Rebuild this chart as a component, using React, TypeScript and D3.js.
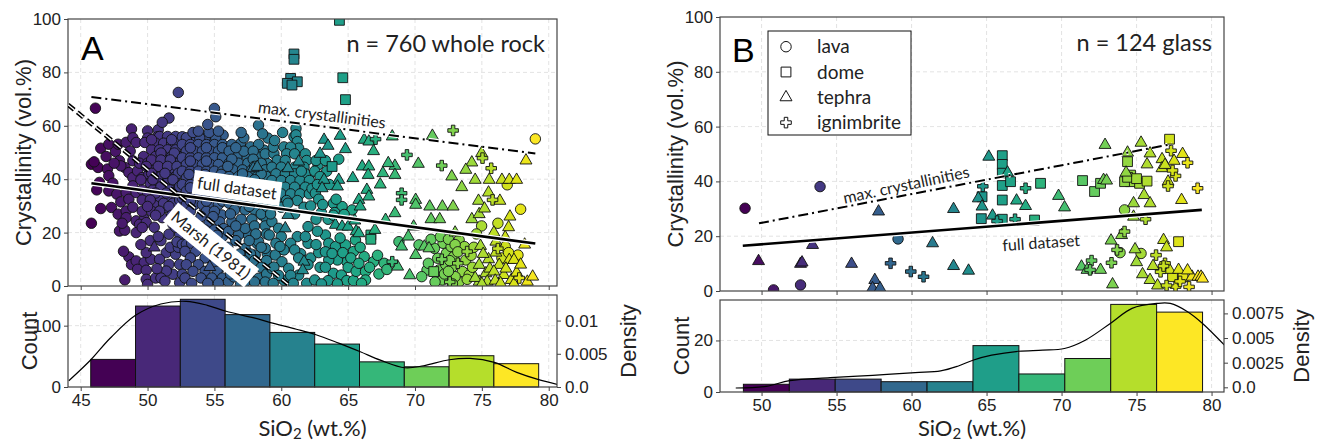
import React, { useRef, useEffect } from 'react'
import * as d3 from 'd3'

type Pt = [number, number]

// ---------- panel A : whole rock (SiO2 wt.%, crystallinity vol.%) ----------
const lavaA: Pt[] = [
  // 45.8 - 49.1
  [46.1,66.6],[48.8,58.8],[46.5,51.6],[47.1,53.1],[47.6,50.4],[47.8,53.1],[48.4,53.8],[45.8,45.6],[46.3,44.4],[47.0,43.8],
  [47.1,41.3],[47.9,46.9],[48.3,44.4],[48.9,46.9],[48.6,42.5],[48.9,40.6],[46.4,38.8],[47.1,35.6],[47.7,34.4],[48.4,35.0],
  [46.5,29.0],[47.3,29.4],[47.8,26.9],[48.4,28.1],[48.4,25.6],[45.8,23.5],[47.9,20.6],[48.3,20.9],[48.6,10.9],[48.3,2.3],
  [48.9,55.5],[48.7,50.5],[46.0,46.5],[47.4,38.5],[48.0,31.5],[48.9,37.5],[46.9,48.5],[48.1,23.5],[48.8,8.0],[48.0,45.0],
  [47.5,46.0],[46.2,36.0],[48.6,32.5],[48.9,29.5],[48.2,13.0],
  // 49.1 - 52.4
  [49.25,43.1],[49.6,40.6],[50.1,41.9],[50.6,40.0],[50.0,58.1],[50.0,55.4],[50.8,58.5],[50.75,55.9],[49.15,53.75],[49.8,53.75],
  [51.6,62.9],[51.1,61.3],[52.3,72.5],[49.9,32.5],[50.5,31.25],[49.15,24.4],[49.75,25.0],[49.4,23.1],[49.9,23.75],[49.15,20.0],
  [49.6,21.9],[49.15,9.4],[49.75,8.75],[49.25,6.25],[49.9,5.9],[50.25,10.0],[49.9,12.5],[49.9,2.5],[50.0,0.6],[51.4,12.5],
  [52.1,11.9],[51.6,8.1],[52.4,8.1],[51.9,4.4],[51.4,5.6],[52.4,1.25],[51.6,19.4],[52.4,19.4],[51.9,23.1],[51.1,25.6],
  [51.4,29.4],[49.15,35.0],
  [50.9,56],[51.5,56],[52.1,56],[50.6,53.5],[51.2,53.5],[51.8,53.5],[52.3,53.5],[50.3,51],[50.9,51],[51.5,51],[52.1,51],
  [49.7,48.5],[50.6,48.5],[51.2,48.5],[51.8,48.5],[52.35,48.5],[49.4,46],[50.0,46],[50.9,46],[51.5,46],[52.1,46],
  [50.5,43.5],[51.2,43.5],[51.8,43.5],[52.4,43.5],[51.0,41],[51.5,41],[52.1,41],[50.2,38.5],[50.8,38.5],[51.4,38.5],[52.0,38.5],
  [49.6,36],[50.4,36],[51.1,36],[51.7,36],[52.3,36],[50.9,33.5],[51.6,33.5],[52.2,33.5],[51.2,31],[51.9,31],
  [49.6,28],[50.3,28],[50.9,28],[52.2,28],[50.2,17],[51.0,17],[51.7,14.5],[52.3,14.5],[50.6,3],[51.0,3],
  [50.3,54.8],[51.8,54.8],[51.0,49.8],[52.0,49.8],[50.3,47.2],[51.0,47.2],[51.7,47.2],[49.9,44.8],[50.8,44.8],[51.5,44.8],[52.2,44.8],
  [50.3,42.2],[51.3,42.2],[52.3,42.2],[49.5,39.8],[50.4,39.8],[51.9,39.8],[51.0,37.2],[52.4,37.2],[50.0,34.8],[50.6,34.8],[51.4,34.8],
  [49.6,32.2],[50.2,32.2],[52.4,32.2],[50.0,29.8],[51.6,29.8],[50.6,26.5],[51.8,26.5],[50.5,22],[52.1,22],[50.9,10],[50.7,6.5],
  [50.8,18.5],[49.5,15.5],[52.2,16.5],[51.3,1.8],
  // 52.4 - 55.8
  [55.0,66.5],[55.1,63.4],[52.6,55.9],[53.45,54.6],[54.45,54.6],[55.65,56.5],[53.55,54.1],[54.3,55.4],[53.8,51.6],[54.55,49.1],
  [54.05,46.6],[54.8,45.4],[53.3,44.1],[55.3,44.1],[53.95,22.1],[52.95,17.1],[54.2,14.6],[55.0,10.9],[55.45,7.1],[55.55,26.6],
  [55.3,16.6],[55.55,7.9],[52.6,15.6],[52.6,4.4],[52.9,15.6],
  [52.9,55.5],[53.9,55.5],[55.1,55.5],[52.6,53],[53.2,53],[53.8,53],[54.4,53],[55.0,53],[55.6,53],
  [52.9,50.5],[53.5,50.5],[54.1,50.5],[54.7,50.5],[55.3,50.5],[52.6,48],[53.2,48],[53.8,48],[54.4,48],[55.0,48],[55.6,48],
  [52.9,45.5],[53.5,45.5],[54.1,45.5],[54.7,45.5],[55.3,45.5],[52.6,43],[53.2,43],[53.8,43],[54.4,43],[55.0,43],[55.6,43],
  [52.9,40.5],[53.5,40.5],[54.1,40.5],[54.7,40.5],[55.3,40.5],[52.6,38],[53.2,38],[53.8,38],[54.4,38],[55.0,38],[55.6,38],
  [52.9,35.5],[53.5,35.5],[54.1,35.5],[54.7,35.5],[55.3,35.5],[52.6,33],[53.2,33],[53.8,33],[54.4,33],[55.0,33],[55.6,33],
  [52.9,30.5],[53.5,30.5],[54.1,30.5],[54.7,30.5],[55.3,30.5],[53.2,28],[54.4,28],[55.0,28],
  [52.7,24],[53.5,24],[54.6,24],[55.4,24],[53.1,21],[54.3,21],[55.0,21],[53.8,18.5],[54.8,18.5],[55.6,18.5],[53.3,16],[54.0,16],
  [52.8,13],[53.6,13],[54.7,13],[55.5,13],[53.2,10.5],[54.3,10.5],[52.9,8],[53.8,8],[54.9,8],[53.4,5.5],[54.3,5.5],[55.2,5.5],
  [52.8,3],[54.0,3],[54.8,3],[55.6,3],[53.3,1],[54.5,1],[55.3,1],
  [53.2,51.8],[54.4,51.8],[55.6,51.8],[53.2,46.8],[54.4,46.8],[53.1,41.8],[54.3,41.8],[55.5,41.8],[53.2,36.8],[54.4,36.8],[55.5,36.8],
  [53.2,31.8],[54.4,31.8],[55.6,31.8],[52.9,26],[54.0,26],[54.9,26],[53.4,57.5],[54.6,57.5],[53.8,58],[55.3,58],[54.5,60.5],
  [52.7,27],[55.7,21.5],[53.9,19.5],[55.2,19.0],
  // 55.8 - 59.1
  [58.3,60.25],[56.95,53.4],[57.7,52.1],[58.7,50.9],[56.7,48.4],[57.45,48.4],[58.2,48.4],[58.95,45.9],[59.0,55.4],[56.95,0.5],
  [57.45,19.6],[58.2,15.9],[58.95,12.1],[58.55,26.6],[58.3,16.6],[58.8,14.1],[58.05,11.6],[57.3,14.1],[56.8,19.1],[57.3,21.6],
  [56.3,24.1],[56.05,20.4],[56.3,11.6],[56.8,6.6],[57.55,4.1],[56.05,1.6],[58.3,2.9],[56.45,3.4],
  [56.3,53],[58.3,53],[56.1,50.5],[57.2,50.5],[57.9,50.5],[56.1,46],[56.8,46],[57.5,46],[58.5,46],
  [56.4,43.5],[57.1,43.5],[57.8,43.5],[58.8,43.5],[56.1,41],[56.8,41],[57.5,41],[58.2,41],[58.9,41],
  [56.4,38.5],[57.1,38.5],[57.8,38.5],[58.5,38.5],[56.1,36],[56.8,36],[57.5,36],[58.2,36],[58.9,36],
  [56.4,33.5],[57.1,33.5],[57.8,33.5],[58.5,33.5],[56.1,31],[56.8,31],[57.5,31],[58.2,31],[58.9,31],[56.5,28.5],[57.3,28.5],[58.0,28.5],
  [57.0,25],[57.8,25],[58.9,25],[56.6,22.5],[58.0,22.5],[58.8,22.5],[58.1,19.5],[58.9,19.5],[56.6,17],[57.6,17],[56.0,14.5],[58.5,14.5],
  [56.9,12],[57.7,12],[56.4,9.5],[57.2,9.5],[58.0,9.5],[58.9,9.5],[57.6,7],[58.5,7],[56.2,4.5],[58.9,4.5],[57.3,1.5],[58.0,1.5],[58.8,1.5],
  [56.3,47.5],[57.9,47.5],[57.1,42],[58.5,42],[56.6,37],[57.8,37],[57.0,32],[58.6,32],[56.2,27],[58.5,27],[57.2,55.5],
  [56.0,39.8],[58.0,39.8],[56.3,34.8],[57.4,34.8],[57.6,29.8],[58.9,29.8],[56.0,44.8],[58.0,44.8],[58.8,49.5],[56.6,51.8],[57.0,57.5],[58.6,57.0],
  // 59.1 - 62.4
  [59.45,49.6],[59.7,47.1],[60.2,52.1],[60.95,55.9],[61.1,59.0],[61.1,56.6],[61.2,54.1],[61.3,51.6],[59.3,24.1],[59.8,21.6],
  [59.1,19.1],[59.55,11.6],[60.05,9.1],[60.55,6.6],[59.3,6.6],[61.3,4.1],[59.45,7.1],[60.2,2.1],[61.45,12.1],[62.05,41.0],[62.0,22.25],
  [59.4,52],[60.7,52],[60.4,49.5],[61.0,49.5],[61.8,49.5],[60.3,47],[61.9,47],[59.3,44.5],[60.0,44.5],[61.0,44.5],[61.7,44.5],
  [59.6,42],[60.3,42],[61.0,42],[61.8,42],[59.3,39.5],[60.0,39.5],[60.7,39.5],[61.4,39.5],[62.1,39.5],
  [59.6,37],[60.3,37],[61.0,37],[61.8,37],[59.3,34.5],[60.0,34.5],[60.7,34.5],[61.4,34.5],[62.1,34.5],
  [59.6,32],[60.4,32],[61.2,32],[59.3,29.5],[60.0,29.5],[61.7,29.5],
  [59.2,27],[61.0,27],[60.0,18.5],[61.2,18.5],[59.6,16],[60.7,16],[62.0,16],[60.2,13.5],[61.0,13.5],[61.3,10.5],[62.2,10.5],
  [59.8,4],[60.7,4],[59.4,1],[60.9,1],[61.9,1],[62.0,8],
  [59.5,54.5],[60.1,57.5],[61.5,43],[60.5,31],[62.2,30],[59.9,14.8],[61.8,18.5],[62.3,36.5],
  // 62.4 - 65.7
  [62.75,45.4],[62.55,34.75],[63.9,31.0],[64.55,29.75],[65.3,28.5],[63.3,19.1],[63.55,16.0],[64.05,14.75],[64.8,15.4],[65.55,17.25],
  [65.4,12.9],[64.9,9.1],[64.2,9.75],[63.55,9.75],[63.9,4.75],[64.5,4.1],[62.5,2.25],
  [62.6,47],[63.3,47],[62.5,43],[63.4,43],[62.9,41],[62.7,38],[63.6,38],[62.8,32.5],[64.1,32.5],[63.0,27.5],[64.0,27.5],
  [62.6,25],[63.5,25],[62.7,20.5],[64.4,18],[62.8,12.5],[63.3,12.8],[64.6,12.5],[62.9,7],[63.3,7],[65.0,7],[63.5,2],[64.9,2],[65.4,2],
  [63.0,0.8],[64.2,0.8],[65.6,5.5],[65.2,10.5],[63.8,12.2],[62.6,15.5],[63.9,26.5],[64.7,26.8],[63.1,30.5],[64.3,47.5],
  // 65.7 - 69.0
  [66.2,11.0],[65.8,8.5],[66.3,5.4],[66.3,2.25],[66.9,9.1],[67.7,8.5],[68.8,16.6],[67.2,11.5],[66.6,7.0],[67.3,4.5],[67.9,6.2],[65.9,14.5],[66.0,1.0],
  // 69.0 - 72.4
  [70.3,15.4],[70.9,6.0],[72.1,16.0],[71.7,10.4],[71.45,14.1],[71.8,6.0],[72.05,2.25],[72.35,12.25],[71.0,8.5],[72.2,4.5],
  [71.5,1.5],[70.5,3.5],[71.2,17.5],[72.3,8.0],[71.9,18.5],
  // 72.4 - 75.7
  [74.98,22.5],[72.7,14.75],[73.3,17.25],[73.7,14.75],[72.9,11.0],[73.8,9.75],[72.8,7.25],[73.55,5.4],[74.05,4.1],[73.3,1.6],
  [72.5,17.5],[73.0,15.5],[72.6,9.5],[73.2,12.8],[74.2,11.5],[73.0,3.5],[72.5,5.5],[74.3,7.0],[72.8,0.8],[73.9,2.5],[74.4,14.5],[74.6,19.5],
  // 75.7 - 79.2
  [79.0,55.1],[76.9,37.9],[77.9,28.75],[76.75,14.75],[77.7,11.6],[76.5,10.5],[77.0,12.5],[76.2,23.5],
]
const domeA: Pt[] = [
  [60.95,86.9],[60.95,84.9],[60.7,77.75],[61.2,76.5],[60.45,75.9],[60.8,75.25],[64.6,78.0],[64.8,69.8],[64.35,99.5],
  [63.8,44.75],[66.7,19.1],[66.7,17.5],[71.4,5.4],
]
const tephraA: Pt[] = [
  [50.5,14.4],[54.65,7.1],[57.9,44.1],[58.2,44.6],
  [60.5,44.1],[61.3,46.6],[60.5,26.6],[60.3,21.6],[61.7,9.1],[61.6,5.9],
  [63.2,54.75],[64.4,56.25],[64.8,51.25],[65.35,40.4],[64.3,39.75],[64.2,37.25],[63.2,39.75],[63.05,36.6],[64.05,22.9],[64.55,22.25],
  [65.0,22.2],[65.5,24.5],[65.6,20.5],[62.9,49.5],[63.5,52.5],
  [66.2,54.75],[66.55,54.1],[68.3,56.0],[66.05,44.75],[66.55,44.75],[66.5,41.6],[67.6,42.25],[68.5,45.0],[68.5,41.6],[66.4,36.0],
  [66.55,33.5],[65.8,32.25],[65.9,29.75],[68.5,27.25],[67.8,24.75],[65.8,19.75],[68.7,7.25],[69.0,14.75],[66.9,50.5],[67.0,21.0],
  [68.0,46.0],[67.4,38.0],
  [71.3,56.25],[70.25,45.75],[70.05,32.25],[70.05,30.4],[71.1,29.75],[69.9,22.25],[70.05,11.6],[70.7,14.75],[71.05,14.1],[72.05,29.75],
  [71.2,25.0],[71.85,25.0],[69.5,18.5],[69.6,4.0],
  [74.25,46.25],[74.98,49.75],[72.75,41.0],[73.5,37.0],[74.5,39.75],[75.55,39.75],[74.75,31.9],[75.5,35.0],[72.85,29.75],[74.25,25.0],
  [74.8,26.9],[74.9,15.0],[74.8,7.9],[75.5,10.0],[75.3,4.75],[75.4,1.6],[74.8,1.6],[75.1,12.0],[75.6,6.5],[74.5,3.0],
  [75.0,0.8],[73.0,20.0],[75.2,29.0],[73.8,43.5],
  [78.3,47.0],[76.5,39.75],[77.05,39.75],[77.6,39.75],[76.35,31.9],[77.1,26.0],[77.0,22.0],[76.75,18.25],[76.05,16.6],[76.05,12.5],
  [76.3,7.9],[77.05,9.75],[77.4,9.75],[75.9,5.4],[76.65,4.1],[77.2,2.25],[78.4,1.6],[76.0,2.0],[76.8,6.5],[77.6,5.0],
  [77.9,8.0],[76.4,1.0],[75.9,20.0],[78.2,15.5],[77.4,0.8],[78.8,3.5],
]
const ignA: Pt[] = [
  [67.05,55.0],[69.0,34.75],[69.0,32.25],[68.3,9.1],[69.4,49.1],[72.0,45.1],[72.0,10.0],[72.85,58.25],[75.05,47.9],[73.9,12.9],
  [73.2,8.5],[72.6,1.5],[75.7,44.1],[75.8,32.25],[76.2,14.0],[77.8,3.0],
]
const countsA = [45, 132, 143, 118, 89, 70, 41, 33, 51, 38]
const binRangeA: Pt = [45.75, 79.25]
const kdeA: Pt[] = [
  [44.11,0.00094],[45.76,0.0041],[47.18,0.0073],[49.1,0.0108],[50.99,0.0125],[52.89,0.0129],[54.47,0.0123],[55.87,0.0114],
  [57.96,0.0104],[59.19,0.0097],[61.13,0.0087],[62.55,0.0079],[64.29,0.0066],[65.91,0.0053],[67.46,0.004],[69.24,0.0029],
  [70.63,0.0032],[72.57,0.0041],[74.12,0.0043],[75.93,0.0037],[77.61,0.0022],[79.25,0.0011],[80.84,0.0003],
]
const maxLineA: Pt[] = [[45.8, 70.8], [79.0, 49.6]]
const fullLineA: Pt[] = [[45.8, 38.5], [79.0, 15.9]]
const marshLineA: Pt[] = [[44.05, 67.9], [60.67, 0]]

// ---------- panel B : glass ----------
const lavaB: Pt[] = [[48.9,30.2],[50.8,0.4],[52.6,2.2],[53.9,38.1],[59.1,19.0],[74.2,29.6],[73.9,14.0],[75.3,13.7]]
const domeB: Pt[] = [
  [64.65,26.4],[64.7,34.4],[66.05,49.4],[66.05,46.2],[66.05,43.0],[66.05,38.5],[66.6,39.9],[66.05,33.2],[66.05,26.2],[68.6,39.3],
  [68.2,25.9],[71.4,40.3],[72.2,36.3],[72.6,39.3],[74.4,47.2],[74.6,42.3],[74.6,39.9],[74.2,39.9],[75.2,39.3],[75.7,40.1],
  [74.4,41.5],[75.0,41.0],[77.2,55.4],[77.8,18.0],[78.1,5.2],[77.4,5.2],
]
const tephraB: Pt[] = [
  [49.8,10.9],[52.6,9.9],[52.7,10.4],[53.4,16.8],[56.0,9.9],[57.8,29.0],[57.55,4.0],[57.4,1.0],[57.9,1.0],[61.4,17.4],
  [62.8,29.9],[62.8,9.1],[63.8,7.4],[64.45,33.8],[64.7,30.8],[65.4,27.5],[65.15,49.0],[66.4,43.2],[67.0,33.0],[67.6,31.0],
  [69.8,34.7],[70.2,30.5],[72.8,40.5],[73.0,40.3],[72.9,53.3],[73.3,18.4],[71.33,8.9],[71.7,7.7],[72.6,7.7],[73.4,2.4],
  [74.0,20.4],[74.9,15.2],[74.3,43.2],[75.3,54.1],[75.9,50.2],[75.7,46.2],[74.8,32.0],[75.5,35.0],[75.9,32.0],[74.8,27.1],
  [76.1,9.1],[75.4,6.1],[75.9,4.0],[76.7,48.1],[76.7,44.8],[74.4,50.5],[75.0,10.5],[76.4,2.0],[78.07,50.0],[77.1,39.9],
  [78.0,33.2],[76.8,18.6],[77.0,15.9],[77.2,7.7],[77.8,7.7],[78.7,5.2],[79.1,5.2],[79.3,5.2],[78.4,7.5],[77.5,47.5],
  [76.9,46.0],[79.4,4.5],
]
const ignB: Pt[] = [
  [58.6,10.1],[59.95,7.1],[60.8,5.2],[64.75,38.2],[66.9,26.2],[65.7,25.5],[67.6,37.5],[73.7,15.0],[73.33,10.3],[72.0,11.1],
  [71.9,7.7],[74.2,21.7],[75.6,26.2],[76.3,13.1],[76.6,7.0],[77.3,51.2],[78.4,46.8],[77.6,42.0],[77.1,38.3],[79.07,37.5],
  [76.9,10.1],[76.8,9.1],[77.6,1.6],[78.5,1.5],[77.9,3.5],[77.0,2.0],[77.4,44.0],
]
const countsB = [3, 5, 5, 4, 4, 18, 7, 13, 34, 31]
const binRangeB: Pt = [48.79, 79.4]
const kdeB: Pt[] = [
  [48.28,-0.00007],[50.32,0.0001],[51.88,0.00068],[54.57,0.00098],[57.41,0.00122],[60.24,0.00149],[61.94,0.00166],[63.08,0.00214],
  [64.09,0.00275],[65.34,0.00326],[67.13,0.00366],[68.74,0.00377],[70.19,0.00394],[71.58,0.00478],[73.25,0.00648],[74.7,0.00801],
  [76.35,0.00851],[77.25,0.00851],[78.4,0.00767],[79.4,0.00648],[80.93,0.00417],
]
const maxLineB: Pt[] = [[49.83, 24.7], [77.35, 53.6]]
const fullLineB: Pt[] = [[48.75, 16.5], [79.35, 29.6]]

// ticks
const crystTicks = [0, 20, 40, 60, 80, 100]
const sioTicksA = [45, 50, 55, 60, 65, 70, 75, 80]
const sioTicksB = [50, 55, 60, 65, 70, 75, 80]
const countTicksA = [0, 100]
const countTicksB = [0, 20]
const densTicksA = [0, 0.005, 0.01]
const densTicksB = [0, 0.0025, 0.005, 0.0075]
const legendItems = ['lava', 'dome', 'tephra', 'ignimbrite']

const W = 1325
const H = 443
const SANS = "'Liberation Sans', Arial, sans-serif"
const LATO = "Lato, 'Open Sans', sans-serif"
const SPINE = '#444'

const symbols = {
  lava: d3.symbol().type(d3.symbolCircle).size(86),
  dome: d3.symbol().type(d3.symbolSquare).size(96),
  tephra: d3.symbol().type(d3.symbolTriangle).size(62),
  ign: d3.symbol().type(d3.symbolCross).size(62),
}

const panels = [
  {
    key: 'A', left: 68, right: 557, top: 19, bottom: 286, hTop: 295, hBottom: 387,
    xDomain: [44.05, 80.62], xTicks: sioTicksA, countTicks: countTicksA, countMax: 150,
    densDomain: [0, 0.01385], densTicks: densTicksA, bins: binRangeA, counts: countsA, kde: kdeA,
    pts: { lava: lavaA, dome: domeA, tephra: tephraA, ign: ignA },
  },
  {
    key: 'B', left: 720, right: 1224, top: 17, bottom: 291, hTop: 300, hBottom: 392,
    xDomain: [47.23, 80.83], xTicks: sioTicksB, countTicks: countTicksB, countMax: 35.7,
    densDomain: [-0.000475, 0.00886], densTicks: densTicksB, bins: binRangeB, counts: countsB, kde: kdeB,
    pts: { lava: lavaB, dome: domeB, tephra: tephraB, ign: ignB },
  },
]

const styleTicks = (g: any) => {
  g.select('.domain').remove()
  g.selectAll('line').attr('stroke', SPINE).attr('stroke-width', 1)
  g.selectAll('text').attr('font-family', SANS).attr('font-size', 17).attr('fill', '#222')
}

const drawLine = (g: any, pts: Pt[], x: any, y: any, dash: string | null, width: number) => {
  const line = d3.line<Pt>().x(d => x(d[0])).y(d => y(d[1]))
  g.append('path').attr('d', line(pts)).attr('fill', 'none').attr('stroke', '#fff')
    .attr('stroke-width', width + 2.4).attr('stroke-dasharray', dash)
  g.append('path').attr('d', line(pts)).attr('fill', 'none').attr('stroke', '#000')
    .attr('stroke-width', width).attr('stroke-dasharray', dash)
}

const textLabel = (g: any, txt: string, cx: number, cy: number, angle: number, size: number, box: boolean) => {
  const t = g.append('g').attr('transform', `translate(${cx},${cy}) rotate(${angle})`)
  const text = t.append('text').attr('text-anchor', 'middle').attr('dominant-baseline', 'central')
    .attr('font-family', LATO).attr('font-size', size).attr('fill', '#222').text(txt)
  if (box) {
    const bb = text.node().getBBox()
    t.insert('rect', 'text').attr('x', bb.x - 4).attr('y', bb.y - 2)
      .attr('width', bb.width + 8).attr('height', bb.height + 4).attr('fill', '#fff')
  }
}

const drawPanel = (svg: any, p: any) => {
  const x = d3.scaleLinear().domain(p.xDomain).range([p.left, p.right])
  const y = d3.scaleLinear().domain([0, 100]).range([p.bottom, p.top])
  const hy = d3.scaleLinear().domain([0, p.countMax]).range([p.hBottom, p.hTop])
  const dy = d3.scaleLinear().domain(p.densDomain).range([p.hBottom, p.hTop])
  const color = (v: number) => d3.interpolateViridis((v - p.bins[0]) / (p.bins[1] - p.bins[0]))

  const defs = svg.append('defs')
  defs.append('clipPath').attr('id', 'sc' + p.key).append('rect')
    .attr('x', p.left).attr('y', p.top).attr('width', p.right - p.left).attr('height', p.bottom - p.top)
  defs.append('clipPath').attr('id', 'hc' + p.key).append('rect')
    .attr('x', p.left).attr('y', p.hTop).attr('width', p.right - p.left).attr('height', p.hBottom - p.hTop)

  // grid
  const grid = svg.append('g').attr('stroke', '#dcdcdc').attr('stroke-width', 0.8).attr('stroke-dasharray', '4,3')
  p.xTicks.forEach((t: number) => {
    grid.append('line').attr('x1', x(t)).attr('x2', x(t)).attr('y1', p.top).attr('y2', p.bottom)
    grid.append('line').attr('x1', x(t)).attr('x2', x(t)).attr('y1', p.hTop).attr('y2', p.hBottom)
  })
  crystTicks.slice(1, -1).forEach(t => {
    grid.append('line').attr('x1', p.left).attr('x2', p.right).attr('y1', y(t)).attr('y2', y(t))
  })
  p.countTicks.slice(1).forEach((t: number) => {
    grid.append('line').attr('x1', p.left).attr('x2', p.right).attr('y1', hy(t)).attr('y2', hy(t))
  })

  // scatter points
  const sc = svg.append('g').attr('clip-path', `url(#sc${p.key})`)
  ;(['lava', 'dome', 'tephra', 'ign'] as const).forEach(k => {
    sc.append('g').selectAll('path').data(p.pts[k]).enter().append('path')
      .attr('d', symbols[k]())
      .attr('transform', (d: Pt) => `translate(${x(d[0])},${y(d[1])})`)
      .attr('fill', (d: Pt) => color(d[0]))
      .attr('stroke', '#111').attr('stroke-width', 0.9)
  })

  // histogram
  const bw = (p.bins[1] - p.bins[0]) / p.counts.length
  svg.append('g').selectAll('rect').data(p.counts).enter().append('rect')
    .attr('x', (d: number, i: number) => x(p.bins[0] + i * bw))
    .attr('width', (d: number, i: number) => x(p.bins[0] + (i + 1) * bw) - x(p.bins[0] + i * bw))
    .attr('y', (d: number) => hy(d))
    .attr('height', (d: number) => p.hBottom - hy(d))
    .attr('fill', (d: number, i: number) => d3.interpolateViridis(i / (p.counts.length - 1)))
    .attr('stroke', '#111').attr('stroke-width', 1)
  const kdeLine = d3.line<Pt>().x(d => x(d[0])).y(d => dy(d[1])).curve(d3.curveCatmullRom)
  svg.append('path').attr('clip-path', `url(#hc${p.key})`).attr('d', kdeLine(p.kde))
    .attr('fill', 'none').attr('stroke', '#000').attr('stroke-width', 1.2)

  // spines
  ;[[p.top, p.bottom], [p.hTop, p.hBottom]].forEach(([t, b]) => {
    svg.append('rect').attr('x', p.left).attr('y', t).attr('width', p.right - p.left).attr('height', b - t)
      .attr('fill', 'none').attr('stroke', SPINE).attr('stroke-width', 1.2)
  })

  // axes
  svg.append('g').attr('transform', `translate(${p.left},0)`)
    .call(d3.axisLeft(y).tickValues(crystTicks).tickSize(4).tickPadding(3).tickSizeOuter(0)).call(styleTicks)
  svg.append('g').attr('transform', `translate(0,${p.bottom})`)
    .call(d3.axisBottom(x).tickValues(p.xTicks).tickSize(4).tickFormat(() => '').tickSizeOuter(0)).call(styleTicks)
  svg.append('g').attr('transform', `translate(0,${p.hBottom})`)
    .call(d3.axisBottom(x).tickValues(p.xTicks).tickSize(4).tickPadding(3).tickFormat(d3.format('d')).tickSizeOuter(0)).call(styleTicks)
  svg.append('g').attr('transform', `translate(${p.left},0)`)
    .call(d3.axisLeft(hy).tickValues(p.countTicks).tickSize(4).tickPadding(3).tickFormat(d3.format('d')).tickSizeOuter(0)).call(styleTicks)
  svg.append('g').attr('transform', `translate(${p.right},0)`)
    .call(d3.axisRight(dy).tickValues(p.densTicks).tickSize(4).tickPadding(4)
      .tickFormat((d: any) => (d === 0 ? '0.0' : String(d))).tickSizeOuter(0)).call(styleTicks)

  // axis titles
  const mid = (p.left + p.right) / 2
  svg.append('text').attr('transform', `translate(${p.left - 37},${(p.top + p.bottom) / 2}) rotate(-90)`)
    .attr('text-anchor', 'middle').attr('font-family', SANS).attr('font-size', 22).attr('fill', '#222')
    .text('Crystallinity (vol.%)')
  svg.append('text').attr('transform', `translate(${p.left - 31},${(p.hTop + p.hBottom) / 2}) rotate(-90)`)
    .attr('text-anchor', 'middle').attr('font-family', SANS).attr('font-size', 22).attr('fill', '#222')
    .text('Count')
  svg.append('text').attr('transform', `translate(${p.right + (p.key === 'A' ? 79 : 85)},${(p.hTop + p.hBottom) / 2}) rotate(-90)`)
    .attr('text-anchor', 'middle').attr('font-family', SANS).attr('font-size', 22).attr('fill', '#222')
    .text('Density')
  const xl = svg.append('text').attr('x', mid).attr('y', 436).attr('text-anchor', 'middle')
    .attr('font-family', LATO).attr('font-size', 22).attr('fill', '#222')
  xl.append('tspan').text('SiO')
  xl.append('tspan').attr('dy', 3).attr('font-size', 15).text('2')
  xl.append('tspan').attr('dy', -3).text(' (wt.%)')

  return { x, y, sc }
}

const App = () => {
  const svgRef = useRef<SVGSVGElement>(null)

  useEffect(() => {
    const svg = d3.select(svgRef.current)
    svg.selectAll('*').remove()

    const a = drawPanel(svg, panels[0])
    const b = drawPanel(svg, panels[1])

    // panel A fit lines
    const la = svg.append('g').attr('clip-path', 'url(#scA)')
    drawLine(la, maxLineA, a.x, a.y, '10,4,2,4', 2)
    drawLine(la, fullLineA, a.x, a.y, null, 2.6)
    const marsh = d3.line<Pt>().x(d => a.x(d[0])).y(d => a.y(d[1]))
    la.append('path').attr('d', marsh(marshLineA)).attr('fill', 'none').attr('stroke', '#000')
      .attr('stroke-width', 4.4).attr('stroke-dasharray', '8,4')
    la.append('path').attr('d', marsh(marshLineA)).attr('fill', 'none').attr('stroke', '#fff')
      .attr('stroke-width', 1.4).attr('stroke-dasharray', '8,4')
    textLabel(svg, 'max. crystallinities', 322, 114, 7.2, 16, false)
    textLabel(svg, 'full dataset', 237, 188, 8, 16.5, true)
    textLabel(svg, 'Marsh (1981)', 211, 245, 39.4, 16.5, true)

    // panel B fit lines
    const lb = svg.append('g').attr('clip-path', 'url(#scB)')
    drawLine(lb, maxLineB, b.x, b.y, '10,4,2,4', 2)
    drawLine(lb, fullLineB, b.x, b.y, null, 2.6)
    textLabel(svg, 'max. crystallinities', 906, 184, -12, 16, false)
    textLabel(svg, 'full dataset', 1041, 242, -4, 16, false)

    // panel letters and sample counts
    svg.append('text').attr('x', 81).attr('y', 60).attr('font-family', SANS).attr('font-size', 34).text('A')
    svg.append('text').attr('x', 732).attr('y', 62).attr('font-family', SANS).attr('font-size', 34).text('B')
    svg.append('text').attr('x', 545).attr('y', 52).attr('text-anchor', 'end').attr('font-family', LATO)
      .attr('font-size', 23.5).attr('fill', '#222').text('n = 760 whole rock')
    svg.append('text').attr('x', 1212).attr('y', 51).attr('text-anchor', 'end').attr('font-family', LATO)
      .attr('font-size', 23.5).attr('fill', '#222').text('n = 124 glass')

    // legend
    const lg = svg.append('g')
    lg.append('rect').attr('x', 768).attr('y', 31).attr('width', 143).attr('height', 104)
      .attr('fill', '#fff').attr('stroke', '#111').attr('stroke-width', 1)
    const keys = ['lava', 'dome', 'tephra', 'ign'] as const
    legendItems.forEach((name, i) => {
      const cy = 46.7 + i * 25.3
      lg.append('path').attr('d', symbols[keys[i]]()).attr('transform', `translate(786,${cy})`)
        .attr('fill', '#fff').attr('stroke', '#111').attr('stroke-width', 1)
      lg.append('text').attr('x', 817).attr('y', cy + 6.5).attr('font-family', LATO).attr('font-size', 19)
        .attr('fill', '#222').text(name)
    })
  }, [])

  return (
    <div style={{ position: 'fixed', left: 0, top: 0 }}>
      <svg ref={svgRef} width={W} height={H} style={{ display: 'block', background: '#fff' }} />
    </div>
  )
}

export default App
